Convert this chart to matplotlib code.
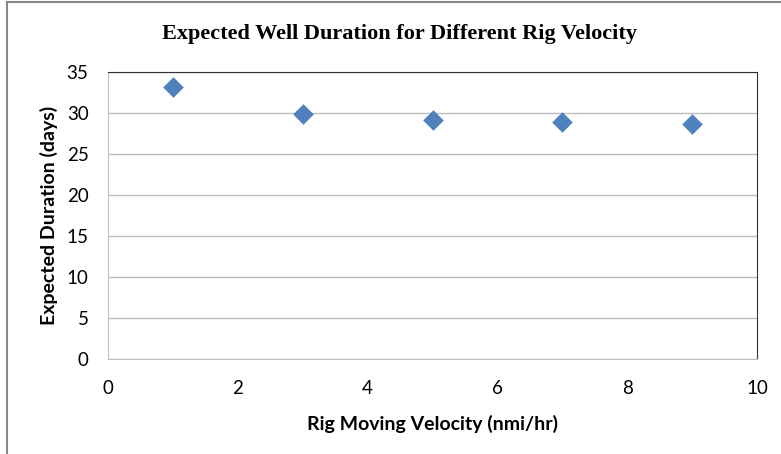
import matplotlib.pyplot as plt
from matplotlib.lines import Line2D

velocity = [1, 3, 5, 7, 9]
duration = [33.2, 29.9, 29.1, 28.9, 28.7]
xticks = [0, 2, 4, 6, 8, 10]
yticks = [0, 5, 10, 15, 20, 25, 30, 35]

fig = plt.figure(figsize=(7.81, 4.54), dpi=100)
ax = fig.add_axes([108/781, 1 - 359/454, (757-108)/781, (359-72)/454])

# outer chart border (clipped on right/bottom like the screenshot)
fig.add_artist(Line2D([7/781, 7/781], [0, 1 - 2/454], color='#888888', lw=1.5))
fig.add_artist(Line2D([7/781, 1], [1 - 2/454, 1 - 2/454], color='#888888', lw=1.5))

ax.scatter(velocity, duration, marker='D', s=110, color='#4F81BD', zorder=3, linewidths=0)

ax.set_xlim(0, 10)
ax.set_ylim(0, 35)
ax.set_xticks(xticks)
ax.set_yticks(yticks)
ax.grid(True, axis='y', color='#BEBEBE', lw=1)
ax.set_axisbelow(True)
ax.tick_params(length=0, labelsize=13.5, colors='#000000')
for lab in ax.get_xticklabels() + ax.get_yticklabels():
    lab.set_family('Lato')
ax.tick_params(axis='x', pad=15)
ax.tick_params(axis='y', pad=14)

ax.spines['top'].set_color('#333333')
ax.spines['right'].set_color('#333333')
ax.spines['left'].set_color('#BEBEBE')
ax.spines['bottom'].set_color('#BEBEBE')

ax.set_xlabel('Rig Moving Velocity (nmi/hr)', family='Lato', fontweight='bold', fontsize=14, labelpad=13)
ax.set_ylabel('Expected Duration (days)', family='Lato', fontweight='bold', fontsize=14)
ax.yaxis.set_label_coords(-0.077, 0.5)
fig.text(400/781, 1 - 39/454, 'Expected Well Duration for Different Rig Velocity',
         family='Liberation Serif', fontweight='bold', fontsize=16, ha='center', va='baseline')

fig.savefig('out.png', dpi=100)
